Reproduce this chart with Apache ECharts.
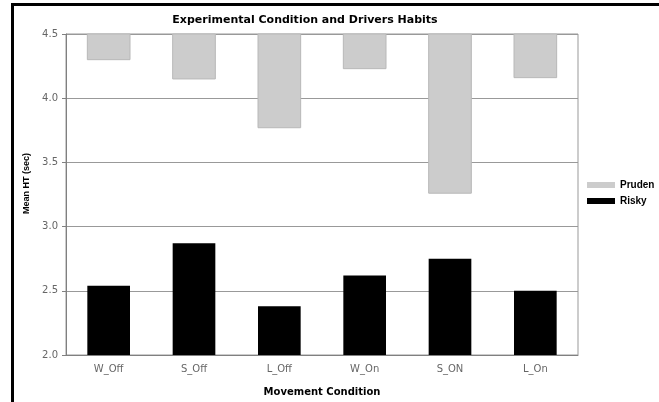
<!DOCTYPE html>
<html>
<head>
<meta charset="utf-8">
<script src="https://cdn.jsdelivr.net/npm/echarts@6/dist/echarts.min.js"></script>
<style>
html,body{margin:0;padding:0;background:#fff;}
#chart{width:659px;height:402px;}
</style>
</head>
<body>
<div id="chart"></div>
<script>
// movement conditions on the x axis
var categories = ['W_Off', 'S_Off', 'L_Off', 'W_On', 'S_ON', 'L_On'];
// mean HT (sec) per driver habit
var pruden = [4.30, 4.15, 3.77, 4.23, 3.26, 4.16];
var risky = [2.54, 2.87, 2.38, 2.62, 2.75, 2.50];
var yMin = 2.0, yMax = 4.5, yStep = 0.5;

var chart = echarts.init(document.getElementById('chart'));

// pruden bars hang down from the top of the axis
function hangingBar(params, api) {
    var i = api.value(0);
    var top = api.coord([i, yMax]);
    var bottom = api.coord([i, api.value(1)]);
    var w = api.size([1, 0])[0] * 0.5;
    return {
        type: 'rect',
        shape: {x: top[0] - w / 2, y: top[1], width: w, height: bottom[1] - top[1]},
        style: {fill: '#cccccc', stroke: '#b8b8b8', lineWidth: 1}
    };
}

var option = {
    animation: false,
    title: {
        text: 'Experimental Condition and Drivers Habits',
        left: 300,
        top: 10,
        textAlign: 'center',
        textStyle: {fontFamily: 'DejaVu Sans', fontSize: 11, fontWeight: 'bold', color: '#000'}
    },
    legend: {
        orient: 'vertical',
        left: 582,
        top: 175,
        itemWidth: 28,
        itemHeight: 6,
        itemGap: 6,
        icon: 'rect',
        data: ['Pruden', 'Risky'],
        textStyle: {fontFamily: 'Liberation Sans', fontSize: 10, fontWeight: 'bold', color: '#000'}
    },
    graphic: [
        {type: 'rect', shape: {x: 11, y: 3, width: 3, height: 399}, style: {fill: '#000'}},
        {type: 'rect', shape: {x: 11, y: 3, width: 648, height: 3}, style: {fill: '#000'}}
    ],
    grid: {
        left: 66,
        right: 81,
        top: 34,
        bottom: 46,
        show: true,
        borderColor: '#999',
        borderWidth: 1
    },
    xAxis: {
        type: 'category',
        data: categories,
        name: 'Movement Condition',
        nameLocation: 'middle',
        nameGap: 32,
        nameTextStyle: {fontFamily: 'DejaVu Sans', fontSize: 10, fontWeight: 'bold', color: '#000'},
        axisLine: {lineStyle: {color: '#808080'}},
        axisTick: {length: 4, lineStyle: {color: '#808080'}},
        axisLabel: {margin: 9, fontFamily: 'DejaVu Sans', fontSize: 10, color: '#666'}
    },
    yAxis: {
        type: 'value',
        min: yMin,
        max: yMax,
        interval: yStep,
        name: 'Mean HT (sec)',
        nameLocation: 'middle',
        nameGap: 34,
        nameTextStyle: {fontFamily: 'Liberation Sans', fontSize: 9, fontWeight: 'bold', color: '#000', padding: [0, 0, 0, 22]},
        axisLine: {show: true, lineStyle: {color: '#808080'}},
        axisTick: {show: true, length: 4, lineStyle: {color: '#808080'}},
        axisLabel: {
            margin: 8,
            fontFamily: 'DejaVu Sans',
            fontSize: 10,
            color: '#666',
            formatter: function (v) { return v.toFixed(1); }
        },
        splitLine: {lineStyle: {color: '#999', width: 1}}
    },
    series: [
        {
            name: 'Pruden',
            type: 'custom',
            renderItem: hangingBar,
            itemStyle: {color: '#cccccc'},
            encode: {x: 0, y: 1},
            data: pruden.map(function (v, i) { return [i, v]; }),
            z: 3
        },
        {
            name: 'Risky',
            type: 'bar',
            barWidth: '50%',
            itemStyle: {color: '#000'},
            data: risky,
            z: 3
        }
    ]
};
chart.setOption(option);
</script>
</body>
</html>
